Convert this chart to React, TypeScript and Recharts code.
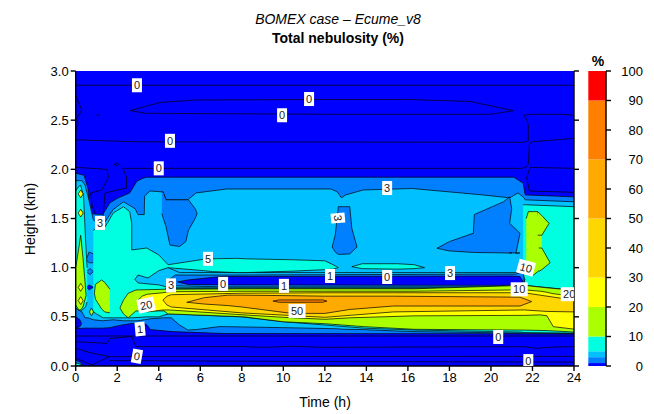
import { Area, Bar, BarChart, ComposedChart, Line, ReferenceDot, XAxis, YAxis } from 'recharts';

// palette of the shaded levels: 0 1 3 5 10 20 30 50 70 90 100
const C01 = '#0000ff';
const C13 = '#0080ff';
const C35 = '#00c0ff';
const C510 = '#00ffe0';
const C1020 = '#aaff00';
const C2030 = '#ffff00';
const C3050 = '#ffd700';
const C5070 = '#ffaa00';
const C7090 = '#ff8000';
const C90 = '#ff0000';

const timeTicks = [0, 2, 4, 6, 8, 10, 12, 14, 16, 18, 20, 22, 24];
const heightTicks = [0, 0.5, 1, 1.5, 2, 2.5, 3];
const barTicks = [0, 10, 20, 30, 40, 50, 60, 70, 80, 90, 100];
const barSteps = [1, 2, 2, 5, 10, 10, 20, 20, 20, 10];
const barColors = [C01, C13, C35, C510, C1020, C2030, C3050, C5070, C7090, C90];

type Row = [number, number, number];

// every band is [time, lower height, upper height]
const whole: Row[] = [[0, 0, 3], [24, 0, 3]];
const level1: Row[] = [[0, 0.38, 1.96], [0.4, 0.385, 1.94], [0.6, 0.385, 1.8], [0.65, 0.385, 1.55], [1.3, 0.385, 1.54], [1.65, 0.39, 1.66], [2.05, 0.41, 1.71], [2.6, 0.43, 1.76], [2.95, 0.435, 1.88], [3.25, 0.437, 1.91], [3.42, 0.42, 1.92], [3.6, 0.37, 1.92], [4.65, 0.35, 1.92], [7.2, 0.33, 1.92], [21.1, 0.328, 1.92], [21.55, 0.327, 1.86], [21.65, 0.327, 1.74], [24, 0.325, 1.72]];
const holeLeft: Row[] = [[0, 0.38, 0.5], [0.2, 0.4, 0.47], [0.28, 0.43, 0.43]];
const level3: Row[] = [[0, 0.59, 1.885], [0.3, 0.55, 1.885], [0.45, 0.49, 1.84], [0.6, 0.49, 1.72], [0.85, 0.47, 1.485], [1.3, 0.46, 1.43], [1.8, 0.47, 1.59], [2.3, 0.46, 1.67], [2.86, 0.46, 1.6], [3, 0.46, 1.54], [3.3, 0.47, 1.54], [3.32, 0.47, 1.73], [3.58, 0.48, 1.78], [4.2, 0.49, 1.77], [4.35, 0.49, 1.69], [4.6, 0.49, 1.69], [5, 0.417, 1.69], [5.4, 0.366, 1.69], [5.8, 0.37, 1.76], [6.9, 0.4, 1.79], [7.25, 0.4, 1.8], [10, 0.39, 1.8], [12.3, 0.38, 1.8], [12.6, 0.378, 1.77], [12.8, 0.375, 1.71], [13, 0.373, 1.74], [13.85, 0.37, 1.79], [16.2, 0.35, 1.805], [19.6, 0.34, 1.74], [20.9, 0.335, 1.71], [21.3, 0.335, 1.76], [21.55, 0.335, 1.72], [21.65, 0.333, 1.69], [24, 0.33, 1.67]];
const pocketTongue: Row[] = [[4.15, 1.55, 1.77], [4.22, 1.5, 1.77], [4.35, 1.417, 1.69], [4.54, 1.23, 1.69], [5, 1.215, 1.69], [5.3, 1.265, 1.69], [5.43, 1.38, 1.69], [5.75, 1.5, 1.6], [5.85, 1.55, 1.55]];
const pocketMid: Row[] = [[12.35, 1.21, 1.21], [12.5, 1.16, 1.33], [12.65, 1.135, 1.62], [13.2, 1.14, 1.62], [13.3, 1.16, 1.4], [13.55, 1.21, 1.21]];
const pocketRight: Row[] = [[17.4, 1.197, 1.197], [18, 1.17, 1.265], [19.15, 1.155, 1.35], [19.2, 1.155, 1.54], [20.6, 1.15, 1.67], [20.9, 1.148, 1.72], [21, 1.15, 1.6], [20.9, 1.15, 1.45], [21.4, 1.15, 1.35], [21.2, 1.145, 1.145]];
const spotA: Row[] = [[0.5, 1.08, 1.08], [0.65, 1.05, 1.16], [0.85, 1.05, 1.14]];
const spotB: Row[] = [[0.5, 0.96, 0.96], [0.7, 0.93, 0.99], [0.85, 0.96, 0.96]];
const spotC: Row[] = [[0.5, 0.8, 0.8], [0.65, 0.775, 0.825], [0.85, 0.8, 0.8]];

const level5Column: Row[] = [[0, 0.59, 1.78], [0.12, 0.57, 1.82], [0.24, 0.56, 1.84], [0.38, 0.58, 1.72], [0.47, 0.6, 1.3], [0.55, 0.65, 1]];
const level5Main: Row[] = [[0.85, 0.55, 1.38], [1, 0.53, 1.4], [1.33, 0.49, 1.39], [1.55, 0.49, 1.46], [1.8, 0.49, 1.555], [2.3, 0.49, 1.62], [2.6, 0.49, 1.57], [2.7, 0.49, 1.45], [2.7, 0.49, 1.18], [3.42, 0.5, 1.2], [4, 0.5, 1.13], [4.45, 0.53, 1.03]];
const level5Tongue: Row[] = [[4.45, 1, 1.03], [6.15, 0.97, 1.085], [6.6, 0.96, 1.09], [7.75, 0.95, 1.095], [8.2, 0.95, 1.09], [10.5, 0.965, 1.08], [12, 0.98, 1.07], [12.4, 0.985, 1.03], [12.65, 1, 1]];
const level5Island: Row[] = [[13.3, 1.01, 1.01], [13.8, 0.99, 1.04], [15.5, 0.985, 1.04], [16.3, 0.99, 1.03], [16.8, 1, 1]];
const level5Low: Row[] = [[4.3, 0.52, 0.79], [4.45, 0.53, 0.79], [8, 0.5, 0.79], [10, 0.45, 0.79], [12, 0.417, 0.79], [13.9, 0.385, 0.79], [16.3, 0.366, 0.79], [21.4, 0.345, 0.79], [21.6, 0.34, 0.8], [24, 0.335, 0.77]];
const level5Right: Row[] = [[21.55, 0.95, 1.64], [21.65, 0.82, 1.64], [24, 0.77, 1.62]];

const strip3: Row[] = [[2.85, 0.88, 0.88], [3, 0.845, 0.925], [3.48, 0.835, 0.895], [4, 0.825, 0.97], [4.45, 0.8, 1], [5, 0.795, 0.95], [21.3, 0.795, 0.95], [21.65, 0.88, 0.88]];
const strip1: Row[] = [[4.4, 0.865, 0.865], [4.8, 0.815, 0.925], [7, 0.805, 0.925], [21.2, 0.805, 0.935], [21.55, 0.83, 0.96], [21.6, 0.87, 0.87]];
const strip0: Row[] = [[4.9, 0.855, 0.855], [5.4, 0.83, 0.875], [7, 0.825, 0.91], [21, 0.82, 0.915], [21.4, 0.84, 0.91], [21.55, 0.86, 0.86]];

const level10Spike: Row[] = [[0, 0.62, 1], [0.15, 0.57, 1.2], [0.24, 0.57, 1.33], [0.35, 0.6, 1.1], [0.45, 0.68, 0.85], [0.5, 0.72, 0.72]];
const level10Blob: Row[] = [[0.9, 0.74, 0.74], [0.95, 0.68, 0.83], [1.25, 0.58, 0.875], [1.4, 0.55, 0.85], [1.65, 0.54, 0.78]];
const level10Dot: Row[] = [[0.66, 0.55, 0.55], [0.76, 0.51, 0.59], [0.86, 0.55, 0.55]];
const level10Main: Row[] = [[2.13, 0.59, 0.59], [2.3, 0.53, 0.67], [2.53, 0.49, 0.74], [2.9, 0.56, 0.773], [4.25, 0.56, 0.78], [4.45, 0.53, 0.78], [8.1, 0.5, 0.785], [10, 0.45, 0.785], [12, 0.43, 0.785], [13.9, 0.4, 0.785], [16.3, 0.373, 0.785], [21.6, 0.365, 0.82], [22.7, 0.36, 0.795], [24, 0.345, 0.77]];
const level10Right: Row[] = [[21.7, 1.05, 1.5], [21.8, 0.96, 1.57], [22.05, 0.925, 1.57], [22.25, 0.96, 1.57], [22.45, 1, 1.33]];
const level10WingUp: Row[] = [[22.25, 1.33, 1.57], [22.45, 1.33, 1.53], [22.8, 1.45, 1.45]];
const level10WingDown: Row[] = [[22.3, 0.96, 1.2], [22.45, 0.98, 1.2], [22.85, 1.05, 1.05]];

const level20: Row[] = [[3, 0.66, 0.67], [3.2, 0.58, 0.71], [3.45, 0.55, 0.73], [4.2, 0.57, 0.745], [4.5, 0.57, 0.755], [8.1, 0.52, 0.76], [10, 0.495, 0.76], [12, 0.475, 0.76], [13.2, 0.49, 0.76], [16.3, 0.51, 0.76], [21.6, 0.515, 0.775], [22.4, 0.52, 0.76], [22.7, 0.51, 0.75], [23, 0.4, 0.735], [24, 0.375, 0.71]];
const level30: Row[] = [[4.2, 0.67, 0.67], [4.4, 0.62, 0.71], [4.6, 0.6, 0.725], [8, 0.54, 0.74], [12, 0.495, 0.745], [15.3, 0.55, 0.745], [21.6, 0.57, 0.745], [22.7, 0.555, 0.71], [24, 0.55, 0.67]];
const level50: Row[] = [[5.35, 0.648, 0.648], [6.2, 0.63, 0.695], [7.3, 0.615, 0.72], [8, 0.6, 0.72], [10.4, 0.535, 0.715], [12, 0.535, 0.71], [13.2, 0.575, 0.71], [15.3, 0.61, 0.71], [21.4, 0.61, 0.7], [21.96, 0.655, 0.655]];
const level70: Row[] = [[9.5, 0.66, 0.66], [9.8, 0.648, 0.672], [11.9, 0.648, 0.672], [12.1, 0.66, 0.66]];

const yellowDots: Row[][] = [
  [[0.12, 1.75, 1.75], [0.24, 1.71, 1.79], [0.36, 1.75, 1.75]],
  [[0.12, 1.555, 1.555], [0.24, 1.515, 1.595], [0.36, 1.555, 1.555]],
  [[0.12, 0.8, 0.8], [0.24, 0.76, 0.84], [0.36, 0.8, 0.8]],
  [[0.12, 0.665, 0.665], [0.24, 0.625, 0.705], [0.36, 0.665, 0.665]],
];
const cornerBlue: Row[] = [[0, 0, 0.06], [0.2, 0, 0.04], [0.4, 0, 0]];
const cornerTeal: Row[] = [[0, 0.005, 0.03], [0.15, 0.005, 0.025], [0.3, 0.01, 0.01]];

const bands: [Row[], string][] = [
  [level1, C13], [holeLeft, C01], [level3, C35], [pocketTongue, C13], [pocketMid, C13], [pocketRight, C13],
  [spotA, C13], [spotB, C13], [spotC, C01],
  [level5Column, C510], [level5Main, C510], [level5Low, C510], [level5Right, C510],
  [strip3, C35], [strip1, C13], [strip0, C01],
  [level5Tongue, C510], [level5Island, C510],
  [level10Spike, C1020], [level10Blob, C1020], [level10Dot, C1020], [level10Main, C1020], [level10Right, C1020], [level10WingUp, C1020], [level10WingDown, C1020],
  [level20, C2030], [level30, C3050], [level50, C5070], [level70, C7090],
  [yellowDots[0], C2030], [yellowDots[1], C2030], [yellowDots[2], C2030], [yellowDots[3], C2030],
  [cornerBlue, C13], [cornerTeal, C510],
];

// contour lines in the clear part, [time, height]
const lineTop = [[0, 2.855], [24, 2.855]];
const lineLens = [[2.62, 2.597], [4.06, 2.68], [5.83, 2.705], [12, 2.71], [16, 2.71], [19, 2.69], [21.08, 2.597], [20, 2.56], [12, 2.56], [3.4, 2.57], [2.62, 2.597]];
const lineMid = [[0, 2.3], [3, 2.28], [21.6, 2.275], [21.8, 2.29], [21.8, 2.45], [21.7, 2.52], [21.56, 2.55], [22, 2.56], [23.5, 2.56], [24, 2.55]];
const lineRightUp = [[2.27, 2.01], [12, 2.01], [21.5, 2.01], [21.75, 2.03], [21.8, 2.06], [21.85, 2.25], [21.96, 2.28], [24, 2.315]];
const lineRightBox = [[24, 2.01], [21.9, 2.02], [21.72, 1.92], [21.85, 1.78], [24, 1.766]];
const lineLeftA = [[0, 2.02], [1.5, 2], [1.58, 1.92], [1.25, 1.79], [0.72, 1.76], [0.8, 1.62], [0.95, 1.55]];
const lineLeftB = [[2.27, 2.01], [2.45, 1.92], [2.45, 1.81], [1.41, 1.76], [1.32, 1.52]];
const lineEdge = [[0, 2.756], [0.29, 2.6], [0.02, 2.51], [0.12, 2.47], [0, 2.39]];
const lineSpeck = [[1.0, 2.55], [1.15, 2.55]];
const lineLoop = [[1.85, 2.05], [1.95, 2.065], [2.08, 2.05], [1.95, 2.035], [1.85, 2.05]];
const lineLow1 = [[0, 0.305], [24, 0.305]];
const lineLow2 = [[0, 0.247], [1.5, 0.23], [1.65, 0.28], [2.7, 0.3], [2.9, 0.197], [8, 0.197], [9, 0.19], [10.5, 0.2], [12, 0.19], [21.6, 0.197], [22.2, 0.18], [22.7, 0.19], [24, 0.197]];
const lineLow3 = [[0, 0.18], [0.8, 0.13], [1.65, 0.095], [24, 0.098]];
const lineLow4 = [[0, 0.08], [0.77, 0.01], [1.65, 0.1]];
const lineLow5 = [[1.65, 0.055], [12, 0.045], [24, 0.04]];
const clearLines = [lineTop, lineLens, lineMid, lineRightUp, lineRightBox, lineLeftA, lineLeftB, lineEdge, lineSpeck, lineLoop, lineLow1, lineLow2, lineLow3, lineLow4, lineLow5];

// contour labels: time, height, text, turn
const labels: [number, number, string, number][] = [
  [2.95, 2.855, '0', 0], [11.24, 2.715, '0', 0], [9.94, 2.55, '0', 0], [4.54, 2.29, '0', 0], [4.0, 2.01, '0', 0],
  [15, 1.81, '3', 0], [12.63, 1.505, '3', 85], [1.17, 1.455, '3', 0], [6.37, 1.09, '5', 0], [21.69, 1.0, '10', 15],
  [12.25, 0.915, '1', 0], [15, 0.905, '0', 0], [18.03, 0.945, '3', 0], [4.59, 0.82, '3', 0], [7.1, 0.835, '0', 0],
  [10.03, 0.815, '1', 0], [21.36, 0.78, '10', 0], [23.77, 0.73, '20', 0], [3.39, 0.62, '20', -12], [10.66, 0.56, '50', 0],
  [3.1, 0.376, '1', -5], [2.95, 0.1, '0', 10], [20.35, 0.295, '0', 0], [21.8, 0.05, '0', 0],
];

const FONT = '"Liberation Sans", Arial, sans-serif';
const tickStyle = { fontSize: 13, fill: '#000', fontFamily: FONT };
const axisStyle = { stroke: '#000', strokeWidth: 1.4 };
const blank = () => '';

const toBand = (rows: Row[]) => rows.map(r => ({ t: r[0], range: [r[1], r[2]] }));
const toLine = (pts: number[][]) => pts.map(p => ({ t: p[0], h: p[1] }));

const Tag = ({ cx, cy, text, turn }: any) => {
  const w = text.length > 1 ? 17 : 10;
  return (
    <g clipPath="url(#plotClip)">
      <g transform={`rotate(${turn} ${cx} ${cy})`}>
        <rect x={cx - w / 2} y={cy - 7} width={w} height={14} fill="#fff" />
        <text x={cx} y={cy + 4} textAnchor="middle" fontSize={11} fontFamily={FONT} fill="#222">{text}</text>
      </g>
    </g>
  );
};

export default function App() {
  const barRow = [Object.fromEntries(barSteps.map((v, i) => [`s${i}`, v]))];
  return (
    <div style={{ position: 'absolute', left: 0, top: 0, width: 654, height: 414, background: '#fff', fontFamily: FONT }}>
      <div style={{ position: 'absolute', left: 0, width: 676, top: 11, textAlign: 'center', fontSize: 14, fontStyle: 'italic', lineHeight: '16px' }}>BOMEX case – Ecume_v8</div>
      <div style={{ position: 'absolute', left: 0, width: 676, top: 30, textAlign: 'center', fontSize: 14, fontWeight: 'bold', lineHeight: '16px' }}>Total nebulosity (%)</div>
      <div style={{ position: 'absolute', left: 585, width: 26, top: 53, textAlign: 'center', fontSize: 14, fontWeight: 'bold', lineHeight: '16px' }}>%</div>
      <div style={{ position: 'absolute', left: 275, width: 100, top: 394, textAlign: 'center', fontSize: 14, lineHeight: '16px' }}>Time (h)</div>
      <div style={{ position: 'absolute', left: -20, width: 100, top: 211, textAlign: 'center', fontSize: 14, lineHeight: '16px', transform: 'rotate(-90deg)' }}>Height (km)</div>

      <div style={{ position: 'absolute', left: 0, top: 0 }}>
        <ComposedChart width={654} height={414} margin={{ top: 71, right: 60, bottom: 18, left: 0 }}>
          <defs>
            <clipPath id="plotClip"><rect x={75.7} y={71} width={498.3} height={295} /></clipPath>
          </defs>
          <XAxis xAxisId="b" dataKey="t" type="number" domain={[0, 24]} ticks={timeTicks} height={30} tick={tickStyle} axisLine={axisStyle} tickLine={axisStyle} tickSize={5} interval={0} allowDataOverflow />
          <XAxis xAxisId="t" dataKey="t" type="number" orientation="top" domain={[0, 24]} ticks={timeTicks} height={0} tickFormatter={blank} axisLine={axisStyle} tickLine={axisStyle} tickSize={5} interval={0} allowDataOverflow />
          <YAxis yAxisId="l" type="number" domain={[0, 3]} ticks={heightTicks} width={75.7} tick={tickStyle} tickFormatter={(v: number) => v.toFixed(1)} axisLine={axisStyle} tickLine={axisStyle} tickSize={5} interval={0} allowDataOverflow />
          <YAxis yAxisId="r" orientation="right" type="number" domain={[0, 3]} ticks={heightTicks} width={20} tickFormatter={blank} axisLine={axisStyle} tickLine={axisStyle} tickSize={5} interval={0} allowDataOverflow />
          <Area xAxisId="b" yAxisId="l" data={toBand(whole)} dataKey="range" type="linear" fill={C01} fillOpacity={1} stroke="none" isAnimationActive={false} dot={false} activeDot={false} />
          {bands.map(([rows, fill], i) => (
            <Area key={i} xAxisId="b" yAxisId="l" data={toBand(rows)} dataKey="range" type="linear" fill={fill} fillOpacity={1} stroke="#000" strokeWidth={0.7} isAnimationActive={false} dot={false} activeDot={false} />
          ))}
          {clearLines.map((pts, i) => (
            <Line key={i} xAxisId="b" yAxisId="l" data={toLine(pts)} dataKey="h" type="linear" stroke="#000" strokeWidth={0.7} dot={false} activeDot={false} isAnimationActive={false} />
          ))}
          {labels.map(([t, h, text, turn], i) => (
            <ReferenceDot key={i} xAxisId="b" yAxisId="l" x={t} y={h} ifOverflow="visible" shape={(p: any) => <Tag cx={p.cx} cy={p.cy} text={text} turn={turn} />} />
          ))}
        </ComposedChart>
      </div>

      <div style={{ position: 'absolute', left: 575, top: 0 }}>
        <BarChart width={79} height={414} data={barRow} barCategoryGap={0} margin={{ top: 71, right: 0, bottom: 48, left: 13.3 }}>
          <XAxis xAxisId={0} hide />
          <YAxis yAxisId={0} orientation="right" type="number" domain={[0, 100]} ticks={barTicks} width={48} tick={{ ...tickStyle, textAnchor: 'end', dx: 30 }} axisLine={axisStyle} tickLine={axisStyle} tickSize={5} interval={0} />
          {barSteps.map((_, i) => (
            <Bar key={i} dataKey={`s${i}`} stackId="a" fill={barColors[i]} isAnimationActive={false} />
          ))}
        </BarChart>
      </div>
    </div>
  );
}
